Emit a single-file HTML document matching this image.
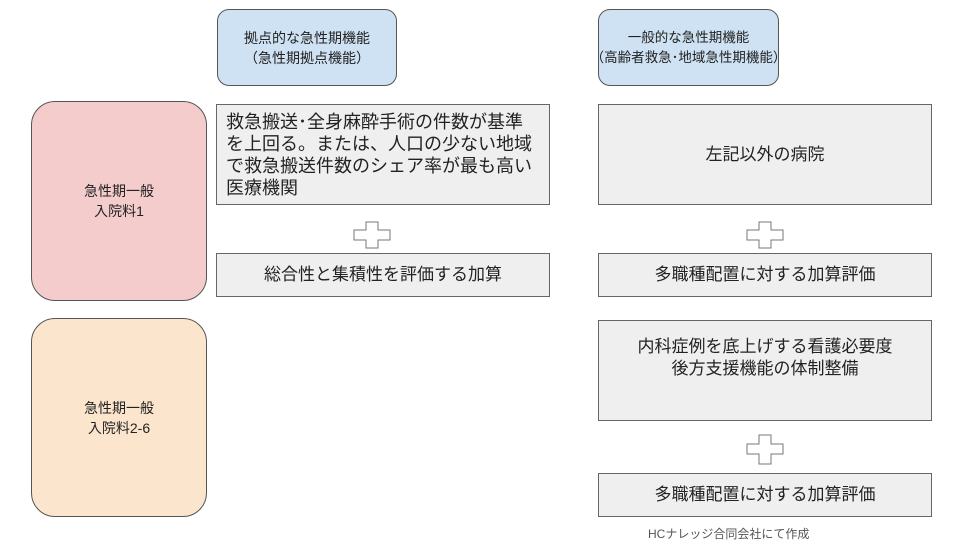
<!DOCTYPE html>
<html><head><meta charset="utf-8"><style>
body{margin:0;width:960px;height:540px;background:#fff;position:relative;overflow:hidden;font-family:"Liberation Sans","Noto Sans CJK JP",sans-serif;color:#222}
.b{position:absolute;box-sizing:border-box;display:flex;align-items:center;justify-content:center;text-align:center;white-space:nowrap}
.blue{background:#cfe2f3;border:1px solid #555;border-radius:12px;font-size:14px;line-height:20px}
.g{background:#efefef;border:1px solid #666;font-size:17px;line-height:22px}
.r{border:1px solid #555;border-radius:24px;font-size:14px;line-height:20px}
svg{position:absolute}
</style></head><body>
<div class="b blue" style="left:217px;top:9px;width:180px;height:77px">拠点的な急性期機能<br>（急性期拠点機能）</div>
<div class="b blue" style="left:598px;top:9px;width:181px;height:77px;font-size:13.5px">一般的な急性期機能<br>（高齢者救急･地域急性期機能）</div>
<div class="b r" style="left:31px;top:101px;width:176px;height:200px;background:#f4cccc">急性期一般<br>入院料1</div>
<div class="b r" style="left:31px;top:318px;width:176px;height:199px;background:#fce5cd">急性期一般<br>入院料2-6</div>
<div class="b g" style="left:216px;top:104px;width:334px;height:101px;justify-content:flex-start;text-align:left;padding:0 9px;font-size:18px;line-height:22px">救急搬送･全身麻酔手術の件数が基準<br>を上回る。または、人口の少ない地域<br>で救急搬送件数のシェア率が最も高い<br>医療機関</div>
<div class="b g" style="left:216px;top:253px;width:334px;height:44px">総合性と集積性を評価する加算</div>
<div class="b g" style="left:598px;top:104px;width:334px;height:101px">左記以外の病院</div>
<div class="b g" style="left:598px;top:253px;width:334px;height:44px">多職種配置に対する加算評価</div>
<div class="b g" style="left:598px;top:320px;width:334px;height:101px;align-items:flex-start;padding-top:15px">内科症例を底上げする看護必要度<br>後方支援機能の体制整備</div>
<div class="b g" style="left:598px;top:473px;width:334px;height:44px">多職種配置に対する加算評価</div>
<svg style="left:352px;top:220px" width="40" height="30"><path d="M14 2h12v8h12v10h-12v8h-12v-8h-12v-10h12z" fill="#fff" stroke="#777"/></svg>
<svg style="left:745px;top:220px" width="40" height="30"><path d="M14 2h12v8h12v10h-12v8h-12v-8h-12v-10h12z" fill="#fff" stroke="#777"/></svg>
<svg style="left:745px;top:433px" width="40" height="33"><path d="M14 2h12v9h12v10h-12v10h-12v-10h-12v-10h12z" fill="#fff" stroke="#777"/></svg>
<div style="position:absolute;left:648px;top:525px;font-size:12px;color:#555">HCナレッジ合同会社にて作成</div>
</body></html>
